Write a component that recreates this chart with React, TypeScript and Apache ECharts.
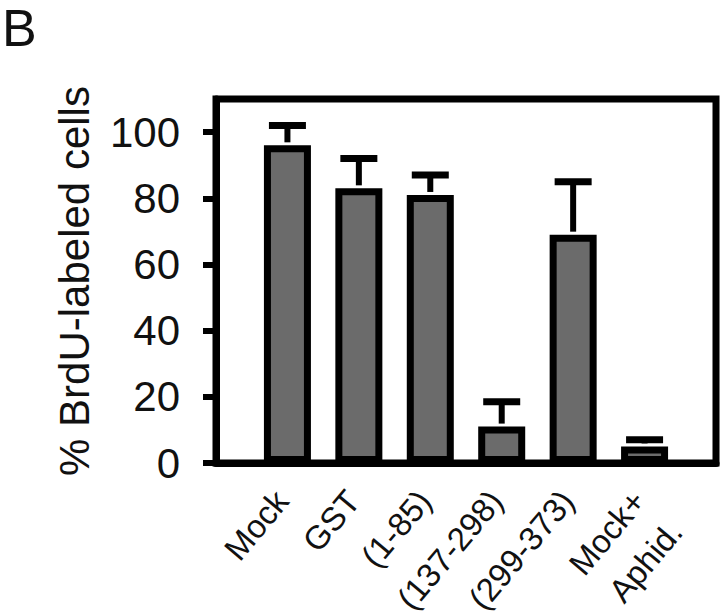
import React, { useEffect, useRef } from "react";
import * as echarts from "echarts";

const categories = ["Mock", "GST", "(1-85)", "(137-298)", "(299-373)", "Mock+\nAphid."];
const values = [96, 83, 81, 11, 69, 5];
const errors = [6, 9, 6, 7.5, 16, 2];
const yTicks = [0, 20, 40, 60, 80, 100];
const yTitle = "% BrdU-labeled cells";
const panelLabel = "B";

const FONT = "'Liberation Sans', Arial, Helvetica, sans-serif";

export default function App() {
  const ref = useRef<HTMLDivElement>(null);
  useEffect(() => {
    if (!ref.current) return;
    const chart = echarts.init(ref.current, undefined, { renderer: "svg" });
    // empty slots at both ends so the bars sit on ticks 1..6 of 7 intervals
    const xData: string[] = ["", ...categories, ""];
    const barData: any[] = ["-", ...values, "-"];
    const errData = values.map((v, i) => [i + 1, v, errors[i]]);
    chart.setOption({
      animation: false,
      backgroundColor: "#fff",
      textStyle: { fontFamily: FONT },
      grid: {
        left: 216,
        right: 4,
        top: 99,
        bottom: 152,
        show: true,
        borderColor: "#000",
        borderWidth: 7,
        backgroundColor: "transparent",
        outerBoundsMode: "none",
        containLabel: false,
      },
      graphic: [
        {
          type: "text",
          left: 2,
          top: 2,
          style: { text: panelLabel, font: `52px ${FONT}`, fill: "#111" },
        },
      ],
      xAxis: {
        type: "category",
        data: xData,
        boundaryGap: false,
        splitLine: { show: false },
        axisTick: { show: false },
        axisLine: { show: true, onZero: false, lineStyle: { color: "#000", width: 7 } },
        axisLabel: {
          interval: 0,
          rotate: 50,
          margin: 25,
          fontSize: 33,
          lineHeight: 48,
          padding: [0, 9, 0, 0],
          color: "#111",
          fontFamily: FONT,
          // two-line labels: keep the first line on the tick like the single-line ones
          formatter: (v: string) => (v.includes("\n") ? "\n" + v : v),
        },
      },
      yAxis: {
        type: "value",
        min: 0,
        max: 110,
        interval: 20,
        splitLine: { show: false },
        axisLine: { show: true, lineStyle: { color: "#000", width: 7 } },
        axisTick: {
          show: true,
          length: 13,
          lineStyle: { color: "#000", width: 6 },
          customValues: yTicks,
        },
        axisLabel: {
          fontSize: 42,
          margin: 36,
          color: "#111",
          fontFamily: FONT,
          customValues: yTicks,
        },
        name: yTitle,
        nameLocation: "middle",
        nameRotate: 90,
        nameGap: 121,
        nameTextStyle: { fontSize: 42, color: "#111", fontFamily: FONT },
      },
      series: [
        {
          type: "bar",
          data: barData,
          barWidth: 47,
          itemStyle: { color: "#6b6b6b", borderColor: "#000", borderWidth: 7 },
          z: 2,
        },
        {
          type: "custom",
          data: errData,
          encode: { x: 0, y: 1 },
          z: 3,
          renderItem: (params: any, api: any) => {
            const x = api.value(0);
            const v = api.value(1);
            const e = api.value(2);
            const base = api.coord([x, v]);
            const top = api.coord([x, v + e]);
            const half = 18.5;
            return {
              type: "group",
              children: [
                {
                  type: "line",
                  shape: { x1: base[0], y1: base[1] - 3, x2: top[0], y2: top[1] },
                  style: { stroke: "#000", lineWidth: 6 },
                },
                {
                  type: "line",
                  shape: { x1: top[0] - half, y1: top[1], x2: top[0] + half, y2: top[1] },
                  style: { stroke: "#000", lineWidth: 7 },
                },
              ],
            };
          },
        },
      ],
    });
    return () => chart.dispose();
  }, []);
  return (
    <div
      ref={ref}
      style={{ position: "fixed", left: 0, top: 0, width: 720, height: 615, background: "#fff" }}
    />
  );
}
